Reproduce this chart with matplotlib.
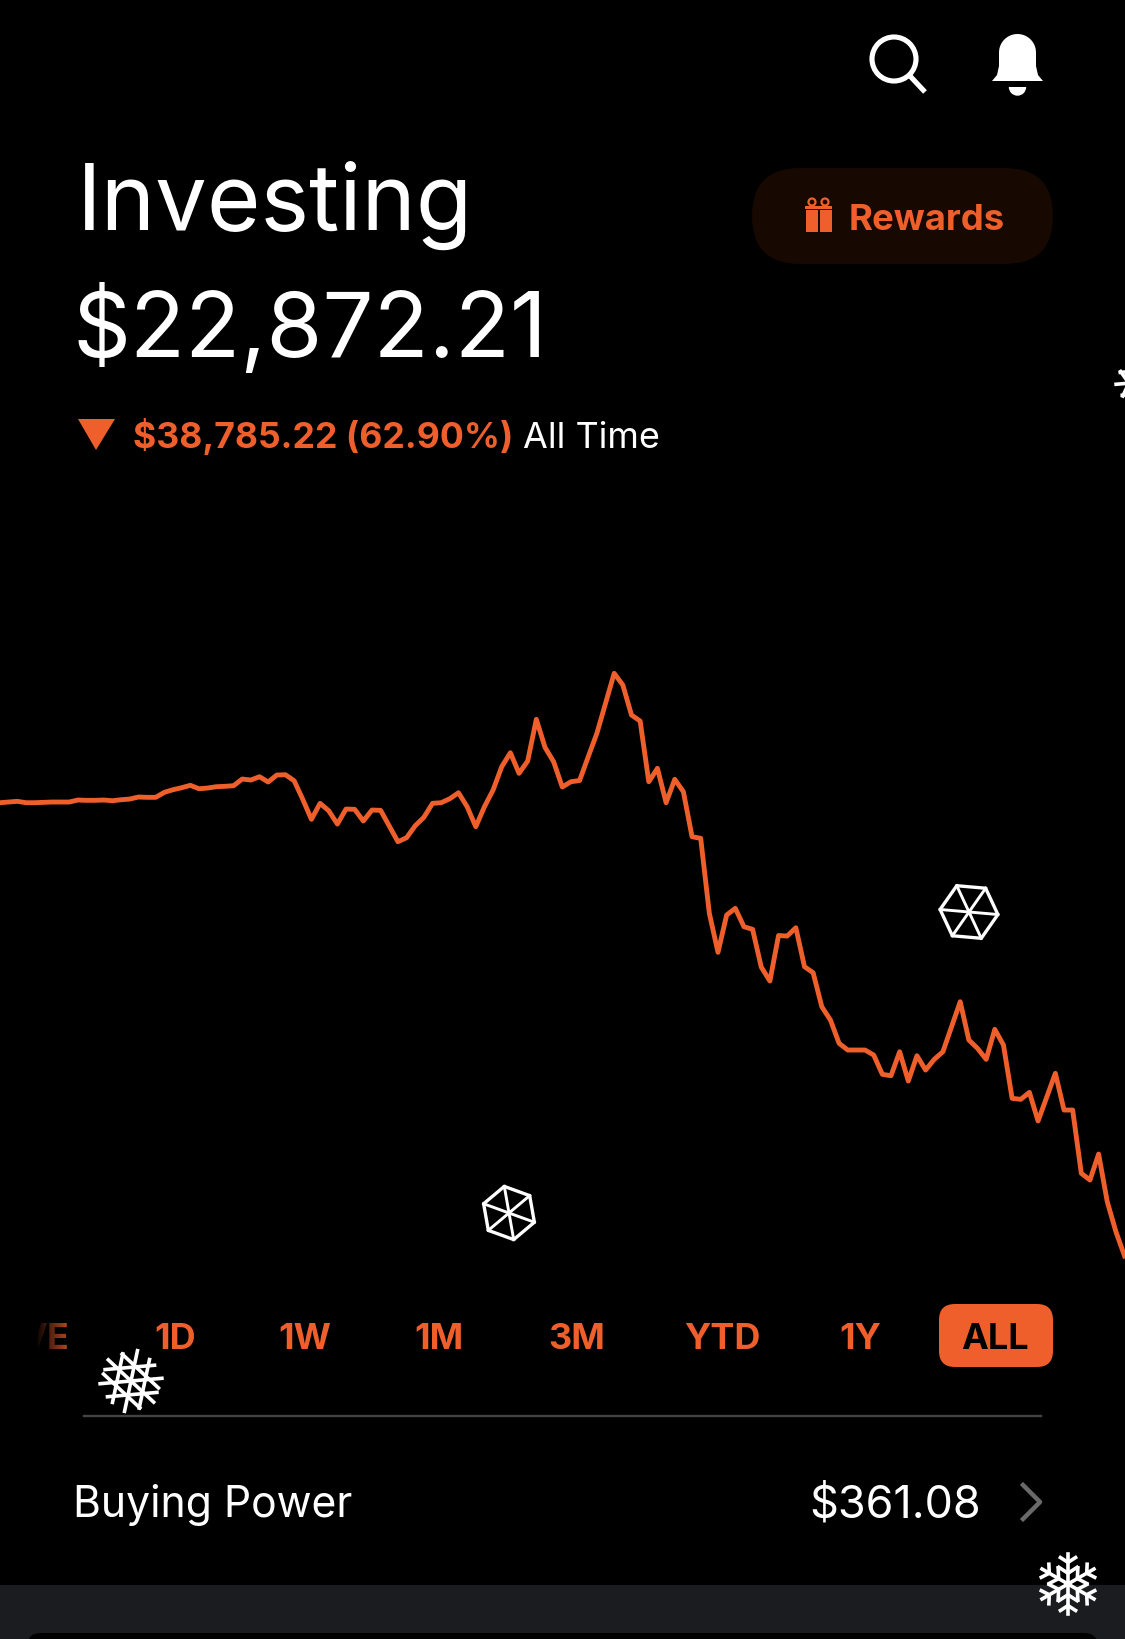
import numpy as np
import matplotlib
matplotlib.use("Agg")
import matplotlib.pyplot as plt
from matplotlib.patches import Circle, FancyBboxPatch, Polygon, Rectangle, Wedge

plt.rcParams['font.family'] = ['Inter', 'DejaVu Sans']

W, H = 1125, 1639
ORANGE = '#ee5f2c'

# account value, one sample per step
values = [61657, 61714, 61774, 61657, 61657, 61689, 61714, 61714, 61714, 61886,
          61860, 61860, 61886, 61826, 61911, 61971, 62142, 62117, 62117, 62544,
          62767, 62938, 63143, 62852, 62912, 63024, 63058, 63109, 63682, 63597,
          63879, 63426, 64024, 64050, 63537, 61945, 60234, 61603, 60970, 59832,
          61115, 61090, 60089, 61030, 61004, 59661, 58318, 58660, 59687, 60405,
          61603, 61657, 61997, 62510, 61312, 59601, 61312, 62741, 64735, 65933,
          64170, 65222, 68790, 66395, 65162, 62998, 63451, 63554, 65590, 67592,
          70159, 72726, 71725, 69158, 68645, 63451, 64598, 61655, 63657, 62595,
          58746, 58609, 52192, 48855, 52046, 52619, 51045, 50823, 47597, 46399,
          50292, 50249, 50960, 47623, 47109, 44200, 43062, 41069, 40495, 40495,
          40495, 40068, 38416, 38297, 40350, 37843, 40008, 38784, 39700, 40350,
          42489, 44628, 41351, 40641, 39700, 42267, 40923, 36363, 36277, 36876,
          34421, 36474, 38502, 35362, 35362, 29946, 29373, 31597, 27516, 24949,
          22872]

periods = ['1D', '1W', '1M', '3M', 'YTD', '1Y', 'ALL']
period_x = [175, 305, 439, 577, 722, 860, 995]

fig = plt.figure(figsize=(W / 100, H / 100), dpi=100, facecolor='black')

# chart sits in its own axes, no ticks or spines in the app
chart = fig.add_axes([0, 1 - 1300 / H, 1, 700 / H])
chart.set_facecolor('black')
chart.plot(range(len(values)), values, color=ORANGE, lw=3.5, solid_joinstyle='round')
chart.set_xlim(0, 130.05)
chart.set_ylim(19108, 79000)
chart.axis('off')

# everything else is laid out in pixels, origin top left
ax = fig.add_axes([0, 0, 1, 1])
ax.patch.set_alpha(0)
ax.set_xlim(0, W)
ax.set_ylim(H, 0)
ax.axis('off')


def px(size):
    return size * 0.72


def hexagon(cx, cy, r, rot):
    ang = np.radians(rot + np.arange(6) * 60)
    xs = cx + r * np.cos(ang)
    ys = cy + r * np.sin(ang)
    ax.add_patch(Polygon(np.c_[xs, ys], closed=True, fill=False, ec='white', lw=2.4))
    for x, y in zip(xs, ys):
        ax.plot([cx, x], [cy, y], color='white', lw=2.1)


# flake made of three families of parallel lines
def lattice_flake(cx, cy, r, dirs):
    for deg in dirs:
        a = np.radians(deg)
        ux, uy = np.cos(a), np.sin(a)
        for off, half in ((-0.44, 0.8), (0, 1.0), (0.44, 0.8)):
            mx, my = cx - uy * off * r, cy + ux * off * r
            ax.plot([mx - ux * half * r, mx + ux * half * r], [my - uy * half * r, my + uy * half * r],
                    color='white', lw=2.6)


# flake with six branched arms
def arm_flake(cx, cy, r, rot):
    for a in np.radians(rot + np.arange(6) * 60):
        ax.plot([cx, cx + r * np.cos(a)], [cy, cy + r * np.sin(a)], color='white', lw=2.6)
        for at, size in ((0.72, 0.3), (0.36, 0.36)):
            bx, by = cx + at * r * np.cos(a), cy + at * r * np.sin(a)
            for d in (-1.0, 1.0):
                ax.plot([bx, bx + size * r * np.cos(a + d)], [by, by + size * r * np.sin(a + d)],
                        color='white', lw=2.6)


# header icons
ax.add_patch(Circle((894, 59), 22, fill=False, ec='white', lw=3.7))
ax.plot([910, 925], [76, 92], color='white', lw=3.7, solid_capstyle='butt')
dome = np.radians(np.linspace(180, 360, 30))
bell_x = [992, 997, 999] + list(1017.5 + 18.5 * np.cos(dome)) + [1036, 1038, 1043]
bell_y = [81, 75, 66] + list(52.5 + 18.5 * np.sin(dome)) + [66, 75, 81]
ax.add_patch(Polygon(np.c_[bell_x, bell_y], closed=True, fc='white', ec='none'))
ax.add_patch(Wedge((1017.5, 87), 8.7, 0, 180, fc='white', ec='none'))

# title block
ax.text(77, 229.5, 'Investing', color='white', fontsize=px(92), ha='left', va='baseline')
ax.text(73, 357, '$22,872.21', color='white', fontsize=px(90.5), ha='left', va='baseline')
ax.add_patch(Polygon([(78, 419), (115, 419), (96, 450)], closed=True, fc=ORANGE, ec='none'))
ax.text(133, 448, '$38,785.22 (62.90%)', color=ORANGE, fontsize=px(35.6), weight='bold', va='baseline')
ax.text(523, 448, 'All Time', color='white', fontsize=px(36), va='baseline')

# rewards pill
ax.add_patch(FancyBboxPatch((752 + 48, 168 + 48), 301 - 96, 0, boxstyle='round,pad=48',
                            fc='#170902', ec='none'))
ax.add_patch(Rectangle((806, 210), 11.5, 22, fc=ORANGE, ec='none'))
ax.add_patch(Rectangle((820, 210), 11.5, 22, fc=ORANGE, ec='none'))
ax.add_patch(Rectangle((805, 206), 27, 3, fc=ORANGE, ec='none'))
ax.add_patch(Circle((812, 202), 3.5, fill=False, ec=ORANGE, lw=1.6))
ax.add_patch(Circle((825, 202), 3.5, fill=False, ec=ORANGE, lw=1.6))
ax.text(849, 230, 'Rewards', color=ORANGE, fontsize=px(36.5), weight='bold', va='baseline')

# period selector
ax.add_patch(FancyBboxPatch((939 + 16, 1304 + 16), 114 - 32, 63 - 32, boxstyle='round,pad=16',
                            fc=ORANGE, ec='none'))
for label, x in zip(periods, period_x):
    ax.text(x, 1349, label, color='black' if label == 'ALL' else ORANGE, fontsize=px(36),
            weight='bold', ha='center', va='baseline')
ax.text(69, 1349, 'VE', color=ORANGE, fontsize=px(36), weight='bold', ha='right', va='baseline')
# LIVE tab scrolled off, text fades out to the left
ax.add_patch(Rectangle((0, 1310), 38, 50, fc='black', ec='none', zorder=5))
fade = np.zeros((1, 64, 4))
fade[0, :, 3] = np.linspace(0.95, 0.2, 64)
ax.imshow(fade, extent=(37, 70, 1360, 1315), aspect='auto', zorder=5)
ax.set_xlim(0, W)
ax.set_ylim(H, 0)

# divider and buying power row
ax.plot([84, 1041], [1416, 1416], color='#444444', lw=1.7)
ax.text(73, 1517, 'Buying Power', color='white', fontsize=px(42.7), va='baseline')
ax.text(981, 1517, '$361.08', color='white', fontsize=px(45), ha='right', va='baseline')
ax.plot([1023, 1040, 1023], [1485, 1502, 1519], color='#6a6a6a', lw=3.2)

# bottom sheet
ax.add_patch(Rectangle((0, 1585), W, 54, fc='#1a1c20', ec='none'))
ax.add_patch(FancyBboxPatch((27 + 14, 1633 + 14), 1071 - 28, 10, boxstyle='round,pad=14',
                            fc='black', ec='none'))

# floating decorations over the app
hexagon(969, 912, 29, 5)
hexagon(509, 1213, 27, 20)
lattice_flake(131, 1381, 31, [-5, 43, 102])
arm_flake(1068, 1584, 30, 90)
lattice_flake(1142, 382, 26, [-5, 55, 115])

fig.savefig('out.png', dpi=100, facecolor='black')
